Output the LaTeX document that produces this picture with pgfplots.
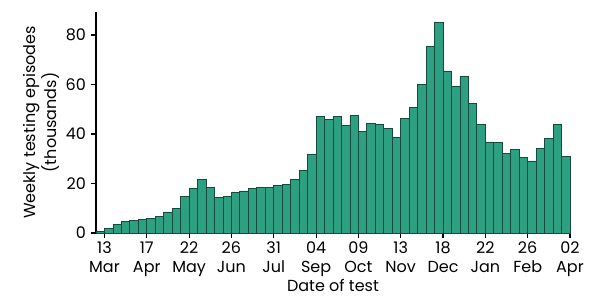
\documentclass[border=0pt]{standalone}
\usepackage{pgfplots}
\pgfplotsset{compat=1.18}
\usepackage{fontspec}
\setmainfont{Poppins}
\definecolor{barfill}{RGB}{44,160,128}
\definecolor{baredge}{RGB}{22,74,60}
\begin{document}
\begin{tikzpicture}
\path[use as bounding box] (-72pt,-50.25pt) rectangle (378pt,174.75pt);
\begin{axis}[
  at={(0,0)}, anchor=south west,
  scale only axis,
  width=355.5pt, height=165.75pt,
  xmin=-1, xmax=55, ymin=0, ymax=89.3,
  axis x line*=bottom, axis y line*=left,
  axis line style={black, line width=0.8pt},
  tick style={black, line width=0.8pt},
  tick align=outside, major tick length=4pt,
  xtick={0,5,...,55},
  xticklabels={13\\Mar,17\\Apr,22\\May,26\\Jun,31\\Jul,04\\Sep,09\\Oct,13\\Nov,18\\Dec,22\\Jan,26\\Feb,02\\Apr},
  xticklabel style={align=center, font=\fontsize{12}{14.5}\selectfont, yshift=1pt},
  yticklabel style={font=\fontsize{12}{14}\selectfont},
  ytick={0,20,40,60,80},
  /pgf/number format/assume math mode=true,
  xlabel={Date of test},
  ylabel={Weekly testing episodes\\(thousands)},
  ylabel style={align=center, font=\fontsize{12}{13.5}\selectfont, yshift=-2pt},
  xlabel style={font=\fontsize{12}{13}\selectfont, yshift=5pt},
  clip=false,
]
\addplot[ybar, bar width=1, bar shift=0pt, fill=barfill, draw=baredge, line width=0.6pt]
coordinates {
(-0.5,0.5) (0.5,1.7) (1.5,3.6) (2.5,4.8) (3.5,5.2) (4.5,5.5) (5.5,5.9) (6.5,6.8)
(7.5,8.5) (8.5,9.8) (9.5,14.8) (10.5,18.0) (11.5,21.6) (12.5,18.5) (13.5,14.2)
(14.5,14.6) (15.5,16.5) (16.5,17.0) (17.5,18.1) (18.5,18.3) (19.5,18.4) (20.5,19.2)
(21.5,19.5) (22.5,21.7) (23.5,25.4) (24.5,31.9) (25.5,47.0) (26.5,46.0) (27.5,47.2)
(28.5,43.5) (29.5,47.5) (30.5,41.2) (31.5,44.4) (32.5,43.9) (33.5,42.4) (34.5,38.5)
(35.5,46.2) (36.5,50.6) (37.5,60.1) (38.5,75.2) (39.5,85.0) (40.5,65.5) (41.5,59.1)
(42.5,63.2) (43.5,52.3) (44.5,43.9) (45.5,36.8) (46.5,36.6) (47.5,32.3) (48.5,33.8)
(49.5,30.7) (50.5,29.1) (51.5,34.0) (52.5,38.1) (53.5,44.0) (54.5,30.9)
};
\end{axis}
\end{tikzpicture}
\end{document}
